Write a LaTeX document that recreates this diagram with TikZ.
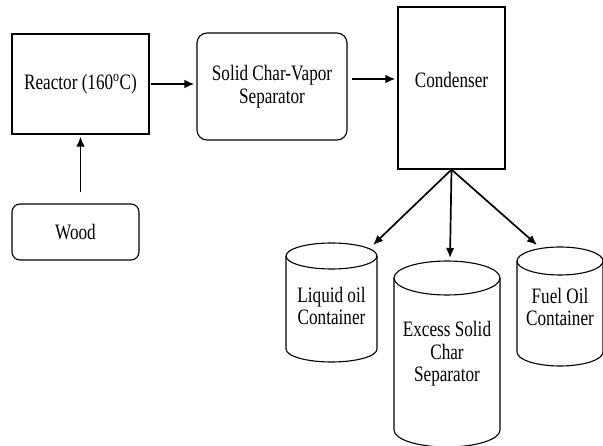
\documentclass[tikz,border=0pt]{standalone}
\usepackage{fontspec}
\setmainfont{Liberation Serif}[FakeStretch=0.78]
\usetikzlibrary{arrows.meta}
\tikzset{
  box/.style={draw, line width=1.1pt, minimum width=#1},
  rbox/.style={draw, line width=1.1pt, rounded corners=10pt},
  lbl/.style={align=center, font=\fontsize{22}{22.5}\selectfont, inner sep=0pt},
  arr/.style={line width=1.7pt, -{Latex[length=10pt, width=8.5pt]}},
  cylline/.style={line width=1.1pt}
}
% cylinder: centre x, top y, bottom y, x radius, y radius
\def\cylinder(#1,#2,#3,#4,#5){%
  \draw[cylline] (#1-#4,#2) -- (#1-#4,#3) arc (180:0:#4 and #5) -- (#1+#4,#2);
  \draw[cylline] (#1,#2) ellipse (#4 and #5);}

\begin{document}
\begin{tikzpicture}[x=1pt, y=-1pt]
			%%%%% START %%%%%
			\useasboundingbox (0,0) rectangle (603,446);
			
			\node[box=137pt, minimum height=100pt, lbl] (reactor) at (80.5, 84) {Reactor (160\textsuperscript{o}C)};
			\node[rbox, minimum width=150pt, minimum height=107pt, lbl] (separator) at (272, 86.5) {Solid Char-Vapor\\Separator};
			\node[box=107pt, minimum height=162pt] (condenser) at (451.5, 88) {};
			\node[lbl] (condlbl) at (451.5, 80) {Condenser};
			\node[rbox, minimum width=127pt, minimum height=56pt, rounded corners=8pt, lbl] (wood) at (75.5, 232) {Wood};
			
			\cylinder(331.5,256,349,45.5,13)
			\cylinder(447,278,430,53,17)
			\cylinder(560,261,352,43,14)
			
			\node[lbl] (liquid) at (331.5, 306) {Liquid oil\\Container};
			\node[lbl] (excess) at (447, 354) {Excess Solid\\Char\\Separator};
			\node[lbl] (fuel) at (560, 307) {Fuel Oil\\Container};
			
			\coordinate (liqtop) at (373, 245);
			\coordinate (exctop) at (450, 258);
			\coordinate (fueltop) at (537, 245);
			
			\draw[arr, shorten <=1pt, shorten >=2pt] (reactor.east) -- (reactor.east -| separator.west);
			\draw[arr, shorten <=4pt, shorten >=2pt] ([yshift=7.5pt]separator.east) -- ([yshift=7.5pt]separator.east -| condenser.west);
			\draw[arr, shorten <=11pt, shorten >=2pt] (reactor.south |- wood.north) -- (reactor.south);
			
			\draw[arr] (condenser.south) -- (liqtop);
			\draw[arr] (condenser.south) -- (exctop);
			\draw[arr] (condenser.south) -- (fueltop);
			
			%%%%% END %%%%%
\end{tikzpicture}
\end{document}
